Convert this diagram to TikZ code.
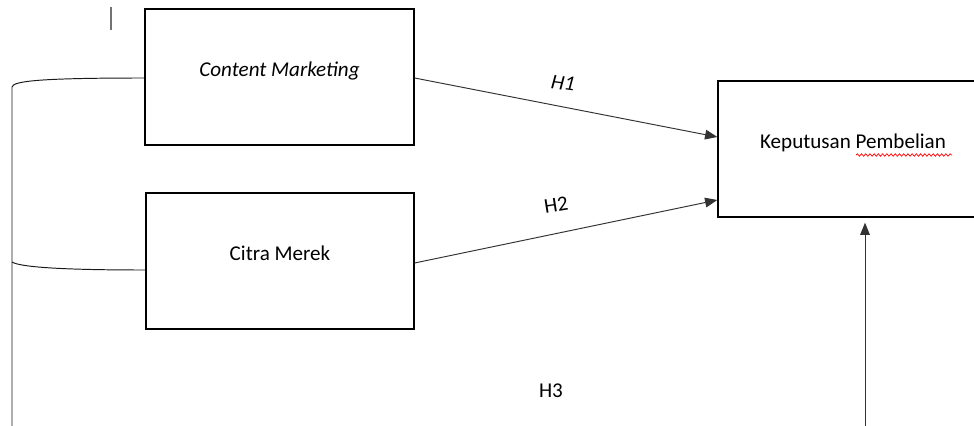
\documentclass[tikz,border=0pt]{standalone}
\usepackage{fontspec}
\setmainfont{Carlito}
\usetikzlibrary{arrows.meta}
\usetikzlibrary{decorations.pathmorphing}
\usetikzlibrary{calc}

\begin{document}
\begin{tikzpicture}[x=0.02cm, y=-0.02cm,
	every node/.style = {font=\fontsize{12}{14}\selectfont},
	varbox/.style = {draw, line width=0.75pt, inner sep=0pt, align=center, text height=6pt, text depth=7pt},
	arr/.style = {draw=black!80, line width=0.55pt, -{Triangle[length=7pt, width=5.5pt]}},
	hyp/.style = {inner sep=1pt}]
		\useasboundingbox (0,0) rectangle (974,426);
		% variables
		\node[varbox, minimum width=5.38cm, minimum height=2.72cm] (cm) at (279.5,77) {\itshape Content Marketing};
		\node[varbox, minimum width=5.36cm, minimum height=2.72cm] (cmr) at (280,261) {Citra Merek};
		\node[varbox, minimum width=5.4cm, minimum height=2.72cm] (kp) at (853,149) {Keputusan Pembelian};
		\draw[red, line width=0.4pt, decorate, decoration={snake, amplitude=0.7pt, segment length=2.4pt}] ($(kp.center)+(3,6)$) -- ($(kp.center)+(99,6)$);
		
		% hypotheses
		\draw[arr] ($(cm.east)+(0,1)$) -- ($(kp.west)+(0,-12)$);
		\draw[arr] ($(cmr.east)+(0,2)$) -- ($(kp.west)+(0,51)$);
		\node[hyp, rotate=-8] (h1) at (563,83) {\itshape H1};
		\node[hyp, rotate=9] (h2) at (556,205) {H2};
		\node[hyp] (h3) at (551,391) {H3};
		
		\coordinate (bl) at (12,426);
		\coordinate (br) at (865,426);
		\draw[black!90, line width=0.55pt] (bl) -- (12,87) .. controls (13,81) and (40,78) .. ($(cm.west)+(0,1)$);
		\draw[black!90, line width=0.55pt] (12,262) .. controls (20,267) and (60,270) .. ($(cmr.west)+(0,9)$);
		\draw[arr] (br) -- ($(br |- kp.south)+(0,5)$);
		\draw[black!55, line width=0.8pt] (111,7) -- (111,30);
		
\end{tikzpicture}
\end{document}
